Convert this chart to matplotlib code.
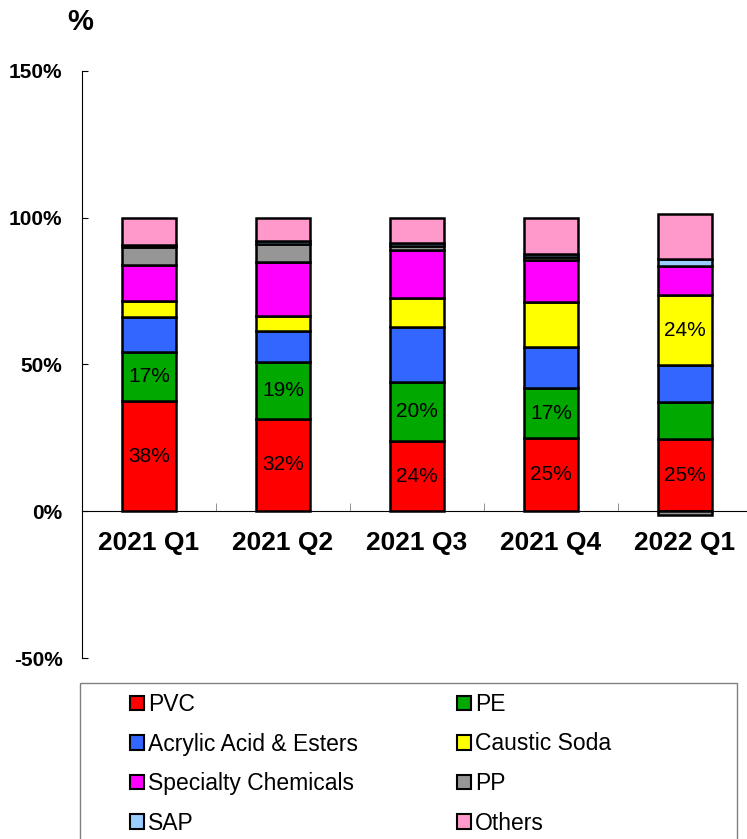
import numpy as np
import matplotlib
matplotlib.use('Agg')
from matplotlib import pyplot as plt
from matplotlib.patches import Rectangle, Patch

plt.rcParams['font.family'] = ['Liberation Sans', 'DejaVu Sans']

quarters = ['2021 Q1', '2021 Q2', '2021 Q3', '2021 Q4', '2022 Q1']
pvc       = [37.5, 31.6, 23.9, 24.8, 24.5]
pe        = [16.8, 19.3, 20.1, 17.3, 12.7]
acrylic   = [11.9, 10.4, 18.8, 13.8, 12.5]
caustic   = [5.6, 5.1, 9.8, 15.4, 23.9]
specialty = [12.0, 18.4, 16.3, 14.3, 9.8]
pp        = [6.4, 6.2, 1.4, 0.9, -1.3]
sap       = [0.5, 1.0, 1.0, 1.0, 2.6]
others    = [9.3, 8.0, 8.7, 12.5, 15.4]

pvc_lbl     = ['38%', '32%', '24%', '25%', '25%']
pe_lbl      = ['17%', '19%', '20%', '17%', '']
caustic_lbl = ['', '', '', '', '24%']

series = [('PVC', pvc, '#ff0000'),
          ('PE', pe, '#00a800'),
          ('Acrylic Acid & Esters', acrylic, '#3366ff'),
          ('Caustic Soda', caustic, '#ffff00'),
          ('Specialty Chemicals', specialty, '#ff00ff'),
          ('PP', pp, '#969696'),
          ('SAP', sap, '#99ccff'),
          ('Others', others, '#ff99cc')]

fig = plt.figure(figsize=(7.47, 8.39), dpi=100)
ax = fig.add_axes([82/747, 1-658/839, 665/747, (658-71)/839])
ax.spines['bottom'].set_position(('data', 0))
ax.spines['top'].set_visible(False)
ax.spines['right'].set_visible(False)

x = np.arange(len(quarters))
pos_base = np.zeros(len(quarters))
neg_base = np.zeros(len(quarters))
handles = {}
for name, vals, col in series:
    vals = np.array(vals, dtype=float)
    bottom = np.where(vals >= 0, pos_base, neg_base)
    bars = ax.bar(x, vals, 0.4, bottom=bottom, color=col, edgecolor='black',
                  linewidth=1.8, zorder=3)
    handles[name] = Patch(facecolor=col, edgecolor='black', linewidth=1.5)
    if name == 'PVC':
        ax.bar_label(bars, pvc_lbl, label_type='center', fontsize=15)
    elif name == 'PE':
        ax.bar_label(bars, pe_lbl, label_type='center', fontsize=15)
    elif name == 'Caustic Soda':
        ax.bar_label(bars, caustic_lbl, label_type='center', fontsize=15)
    pos_base = pos_base + np.where(vals >= 0, vals, 0)
    neg_base = neg_base + np.where(vals < 0, vals, 0)

ax.set_ylim(-50, 150)
ax.set_xlim(-0.5, (747-149)/134)
ax.set_yticks([-50, 0, 50, 100, 150])
ax.set_yticklabels(['-50%', '0%', '50%', '100%', '150%'], fontsize=15, fontweight='bold')
ax.set_xticks(x)
ax.set_xticklabels(quarters, fontsize=19, fontweight='bold')
ax.set_xticks(x[:-1] + 0.5, minor=True)
ax.tick_params(axis='x', which='major', length=0, pad=14)
ax.tick_params(axis='x', which='minor', direction='in', length=6, color='#808080')
ax.tick_params(axis='y', direction='in', length=4, pad=14)

fig.text(80/747, 1-22/839, '%', fontsize=21, fontweight='bold', ha='center', va='center')

# legend box
fig.patches.append(Rectangle((80/747, -0.05), 657/747, 0.05 + (839-683)/839,
                             transform=fig.transFigure, fill=False,
                             edgecolor='#808080', linewidth=1))
order = ['PVC', 'Acrylic Acid & Esters', 'Specialty Chemicals', 'SAP',
         'PE', 'Caustic Soda', 'PP', 'Others']
fig.legend([handles[n] for n in order], order, ncol=2, frameon=False,
           loc='upper left', bbox_to_anchor=(130/747, 1-693/839),
           fontsize=16.5, handlelength=0.6, handleheight=0.6,
           handletextpad=0.2, labelspacing=0.72, columnspacing=4.3,
           borderaxespad=0, borderpad=0)

fig.savefig('out.png', dpi=100)
